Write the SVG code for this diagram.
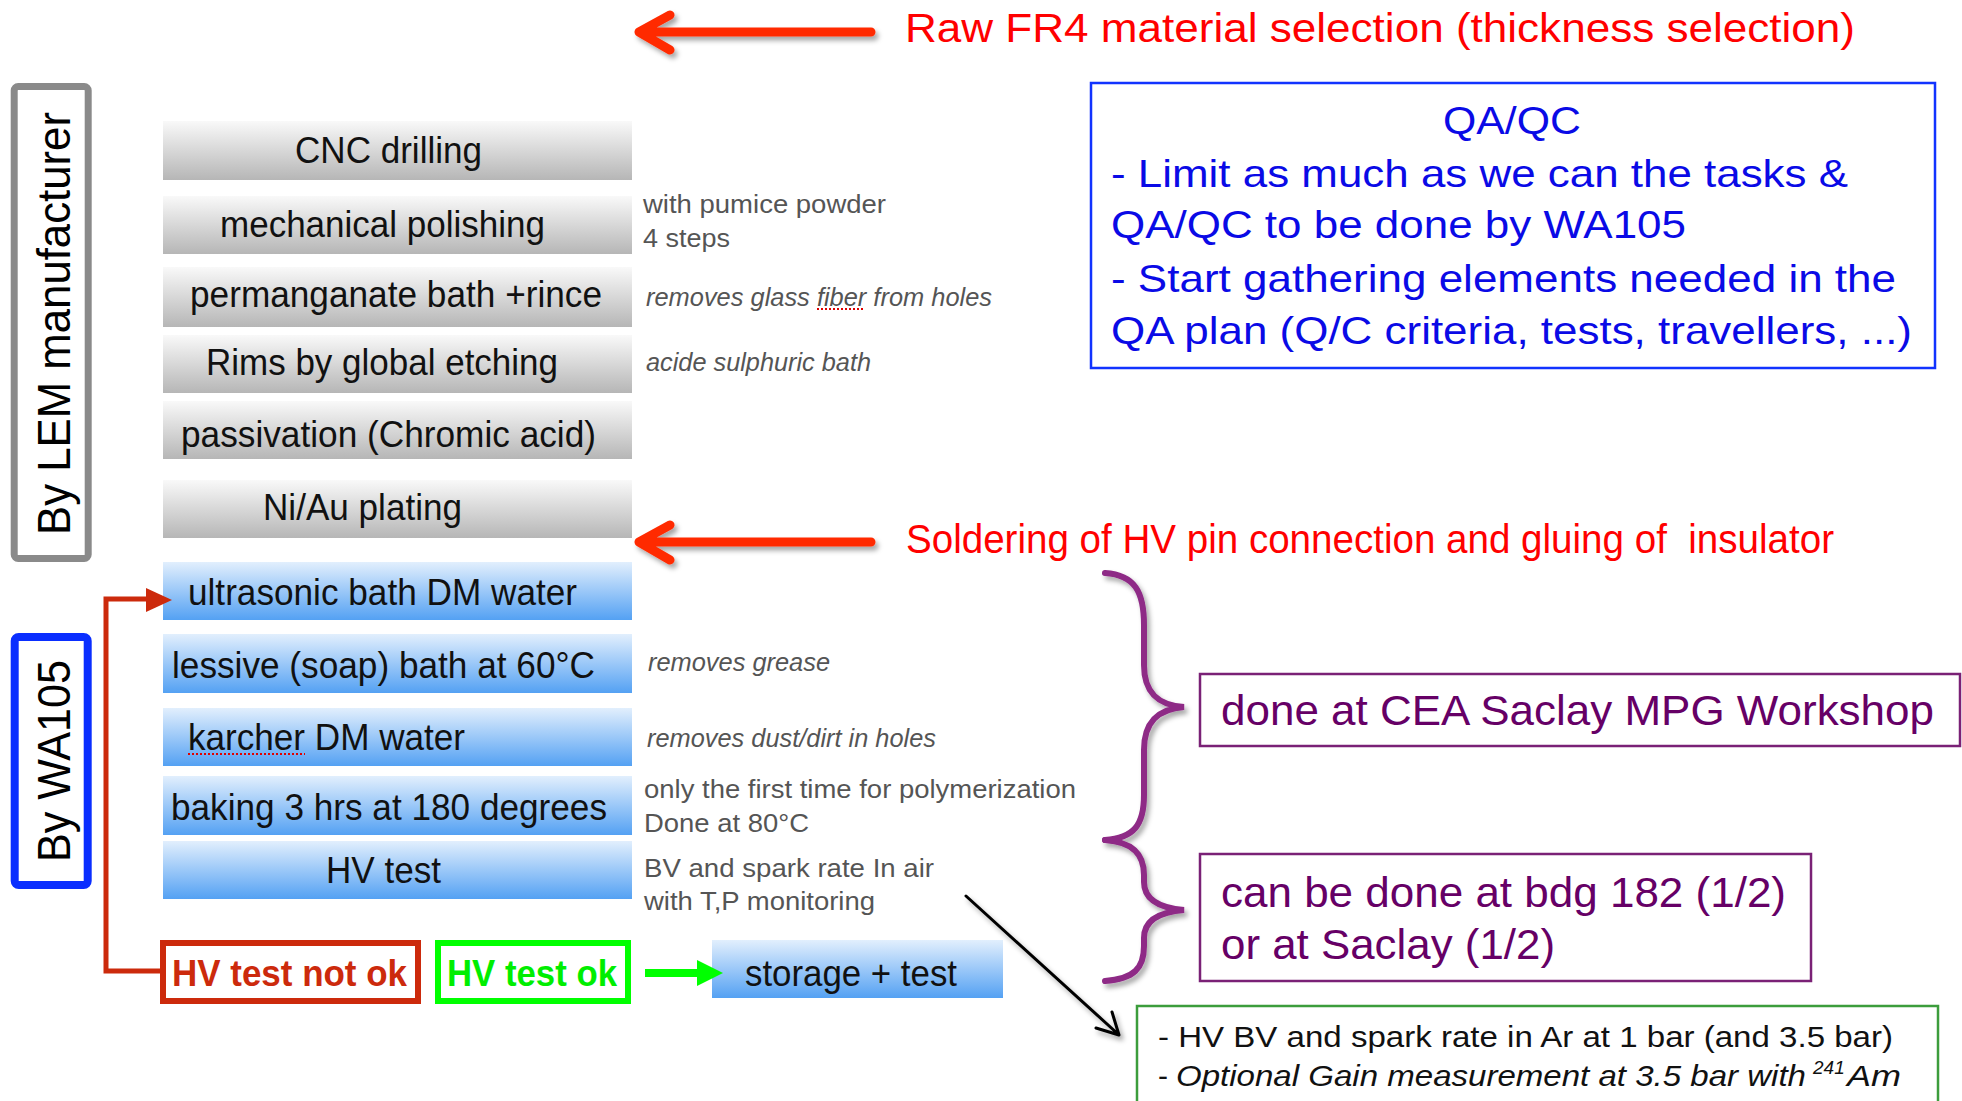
<svg xmlns="http://www.w3.org/2000/svg" width="1962" height="1101" viewBox="0 0 1962 1101">
<defs>
<linearGradient id="gGray" x1="0" y1="0" x2="0" y2="1">
<stop offset="0" stop-color="#f9f9f9"/><stop offset="1" stop-color="#b6b6b6"/>
</linearGradient>
<linearGradient id="gBlue" x1="0" y1="0" x2="0" y2="1">
<stop offset="0" stop-color="#e2effd"/><stop offset="1" stop-color="#54a1f3"/>
</linearGradient>
<filter id="sh" x="-20%" y="-20%" width="140%" height="140%">
<feDropShadow dx="3" dy="4" stdDeviation="2.5" flood-color="#000" flood-opacity="0.35"/>
</filter>
</defs>
<style>
text{font-family:"Liberation Sans",Arial,Helvetica,sans-serif}
.step{font-size:36px;fill:#111}
.note{font-size:26px;fill:#555}
.it{font-style:italic;font-size:25px}
.red{font-size:40px;fill:#ff0000}
.qa{font-size:39px;fill:#0a0ae6}
.pur{font-size:42px;fill:#660066}
.side{font-size:46px;fill:#000}
.gr{fill:url(#gGray)}
.bl{fill:url(#gBlue)}
.redarrow{fill:none;stroke:#ff2a00;stroke-width:9;stroke-linecap:round;stroke-linejoin:round}
.brace{fill:none;stroke:#8e2a86;stroke-width:6;stroke-linecap:round}
.spell{stroke:#e00000;stroke-width:2;stroke-dasharray:2 2}
</style>
<rect width="1962" height="1101" fill="#fff"/>

<g id="label-lem">
<rect x="14.2" y="86.5" width="74" height="472" rx="4" fill="#fff" stroke="#8a8a8a" stroke-width="7"/>
<text class="side" transform="translate(70,323.5) rotate(-90)" text-anchor="middle" textLength="423" lengthAdjust="spacingAndGlyphs">By LEM manufacturer</text>
</g>
<g id="label-wa105">
<rect x="14.7" y="637" width="73" height="248" rx="4" fill="#fff" stroke="#0a2eff" stroke-width="8"/>
<text class="side" transform="translate(70,761) rotate(-90)" text-anchor="middle" textLength="202" lengthAdjust="spacingAndGlyphs">By WA105</text>
</g>

<g id="step-cnc"><rect class="gr" x="163" y="121" width="469" height="59"/><text class="step" x="295" y="163" textLength="187" lengthAdjust="spacingAndGlyphs">CNC drilling</text></g>
<g id="step-polishing"><rect class="gr" x="163" y="196" width="469" height="58"/><text class="step" x="220" y="237" textLength="325" lengthAdjust="spacingAndGlyphs">mechanical polishing</text></g>
<g id="step-permanganate"><rect class="gr" x="163" y="267" width="469" height="60"/><text class="step" x="190" y="307" textLength="412" lengthAdjust="spacingAndGlyphs">permanganate bath +rince</text></g>
<g id="step-rims"><rect class="gr" x="163" y="335" width="469" height="58"/><text class="step" x="206" y="375" textLength="352" lengthAdjust="spacingAndGlyphs">Rims by global etching</text></g>
<g id="step-passivation"><rect class="gr" x="163" y="401" width="469" height="58"/><text class="step" x="181" y="447" textLength="415" lengthAdjust="spacingAndGlyphs">passivation (Chromic acid)</text></g>
<g id="step-niau"><rect class="gr" x="163" y="480" width="469" height="58"/><text class="step" x="263" y="520" textLength="199" lengthAdjust="spacingAndGlyphs">Ni/Au plating</text></g>

<g id="step-ultrasonic"><rect class="bl" x="163" y="562" width="469" height="58"/><text class="step" x="188" y="605" textLength="389" lengthAdjust="spacingAndGlyphs">ultrasonic bath DM water</text></g>
<g id="step-lessive"><rect class="bl" x="163" y="634" width="469" height="59"/><text class="step" x="172" y="678" textLength="423" lengthAdjust="spacingAndGlyphs">lessive (soap) bath at 60°C</text></g>
<g id="step-karcher"><rect class="bl" x="163" y="708" width="469" height="58"/><text class="step" x="188" y="750" textLength="277" lengthAdjust="spacingAndGlyphs">karcher DM water</text><line class="spell" x1="188" y1="754" x2="305" y2="754"/></g>
<g id="step-baking"><rect class="bl" x="163" y="776" width="469" height="59"/><text class="step" x="171" y="820" textLength="436" lengthAdjust="spacingAndGlyphs">baking 3 hrs at 180 degrees</text></g>
<g id="step-hvtest"><rect class="bl" x="163" y="841" width="469" height="58"/><text class="step" x="326" y="883" textLength="115" lengthAdjust="spacingAndGlyphs">HV test</text></g>
<g id="step-storage"><rect class="bl" x="712" y="940" width="291" height="58"/><text class="step" x="745" y="986" textLength="212" lengthAdjust="spacingAndGlyphs">storage + test</text></g>

<g id="hv-not-ok"><rect x="163" y="943" width="255" height="58" fill="#fff" stroke="#cc2a0c" stroke-width="6"/><text x="172" y="986" font-size="36" font-weight="bold" fill="#cc2a0c" textLength="235" lengthAdjust="spacingAndGlyphs">HV test not ok</text></g>
<g id="hv-ok"><rect x="438" y="943" width="190" height="58" fill="#fff" stroke="#00ff00" stroke-width="6"/><text x="447" y="986" font-size="36" font-weight="bold" fill="#00ee00" textLength="170" lengthAdjust="spacingAndGlyphs">HV test ok</text></g>

<g id="notes">
<text class="note" x="643" y="213" textLength="243" lengthAdjust="spacingAndGlyphs">with pumice powder</text>
<text class="note" x="643" y="247" textLength="87" lengthAdjust="spacingAndGlyphs">4 steps</text>
<text class="note it" x="646" y="306" textLength="346" lengthAdjust="spacingAndGlyphs">removes glass fiber from holes</text>
<line class="spell" x1="817" y1="309" x2="865" y2="309"/>
<text class="note it" x="646" y="371" textLength="225" lengthAdjust="spacingAndGlyphs">acide sulphuric bath</text>
<text class="note it" x="648" y="671" textLength="182" lengthAdjust="spacingAndGlyphs">removes grease</text>
<text class="note it" x="647" y="747" textLength="289" lengthAdjust="spacingAndGlyphs">removes dust/dirt in holes</text>
<text class="note" x="644" y="798" textLength="432" lengthAdjust="spacingAndGlyphs">only the first time for polymerization</text>
<text class="note" x="644" y="832" textLength="165" lengthAdjust="spacingAndGlyphs">Done at 80°C</text>
<text class="note" x="644" y="877" textLength="290" lengthAdjust="spacingAndGlyphs">BV and spark rate In air</text>
<text class="note" x="644" y="910" textLength="231" lengthAdjust="spacingAndGlyphs">with T,P monitoring</text>
</g>

<g id="note-raw">
<text class="red" x="905" y="42" textLength="950" lengthAdjust="spacingAndGlyphs">Raw FR4 material selection (thickness selection)</text>
</g>
<g id="note-soldering">
<text class="red" x="906" y="553" textLength="928" lengthAdjust="spacingAndGlyphs" xml:space="preserve">Soldering of HV pin connection and gluing of  insulator</text>
</g>

<g id="qaqc">
<rect x="1091" y="83" width="844" height="285" fill="none" stroke="#1133ff" stroke-width="2.5"/>
<text class="qa" x="1512" y="134" text-anchor="middle" textLength="138" lengthAdjust="spacingAndGlyphs">QA/QC</text>
<text class="qa" x="1111" y="187" textLength="737" lengthAdjust="spacingAndGlyphs">- Limit as much as we can the tasks &amp;</text>
<text class="qa" x="1111" y="238" textLength="575" lengthAdjust="spacingAndGlyphs">QA/QC to be done by WA105</text>
<text class="qa" x="1111" y="292" textLength="785" lengthAdjust="spacingAndGlyphs">- Start gathering elements needed in the</text>
<text class="qa" x="1111" y="344" textLength="801" lengthAdjust="spacingAndGlyphs">QA plan (Q/C criteria, tests, travellers, ...)</text>
</g>

<g id="cea-saclay">
<rect x="1200" y="674" width="760" height="72" fill="none" stroke="#7a2176" stroke-width="2.5"/>
<text class="pur" x="1221" y="725" textLength="713" lengthAdjust="spacingAndGlyphs">done at CEA Saclay MPG Workshop</text>
</g>
<g id="bdg182">
<rect x="1200" y="854" width="611" height="127" fill="none" stroke="#7a2176" stroke-width="2.5"/>
<text class="pur" x="1221" y="907" textLength="565" lengthAdjust="spacingAndGlyphs">can be done at bdg 182 (1/2)</text>
<text class="pur" x="1221" y="959" textLength="334" lengthAdjust="spacingAndGlyphs">or at Saclay (1/2)</text>
</g>
<g id="ar-test">
<rect x="1137" y="1006" width="801" height="110" fill="#fff" stroke="#3c9d3c" stroke-width="2.5"/>
<text x="1158" y="1047" font-size="30" fill="#111" textLength="735" lengthAdjust="spacingAndGlyphs">- HV BV and spark rate in Ar at 1 bar (and 3.5 bar)</text>
<text font-size="30" fill="#111"><tspan x="1158" y="1086">-</tspan><tspan font-style="italic" x="1176" y="1086" textLength="630" lengthAdjust="spacingAndGlyphs">Optional Gain measurement at 3.5 bar with</tspan><tspan font-style="italic" font-size="19" x="1813" y="1074">241</tspan><tspan font-style="italic" x="1847" y="1086" textLength="54" lengthAdjust="spacingAndGlyphs">Am</tspan></text>
</g>

<g id="connectors">
<g filter="url(#sh)">
<path class="redarrow" d="M871,32 L642,32 M670,15 L639,32 L670,50"/>
<path class="redarrow" d="M871,542 L642,542 M670,525 L639,542 L670,560"/>
<path class="brace" d="M1105,573 C1135,575 1144,592 1144,625 L1144,665 C1144,693 1158,705 1184,707 C1158,709 1144,722 1144,750 L1144,795 C1144,825 1134,838 1105,840"/>
<path class="brace" d="M1105,840 C1134,842 1144,855 1144,875 L1144,882 C1144,900 1160,908 1184,910 C1160,912 1144,920 1144,938 L1144,946 C1144,968 1134,979 1105,981"/>
<path d="M966,896 L1118,1034 M1096,1028 L1119,1035 L1112,1012" fill="none" stroke="#000" stroke-width="3" stroke-linecap="round" stroke-linejoin="round"/>
</g>
<polyline points="160,971 106,971 106,599 150,599" fill="none" stroke="#cc2a0c" stroke-width="5"/>
<polygon points="146,588 172,600 146,612" fill="#cc2a0c"/>
<line x1="645" y1="973" x2="700" y2="973" stroke="#00ff00" stroke-width="8"/>
<polygon points="697,960 723,973 697,986" fill="#00ff00"/>
</g>
</svg>
